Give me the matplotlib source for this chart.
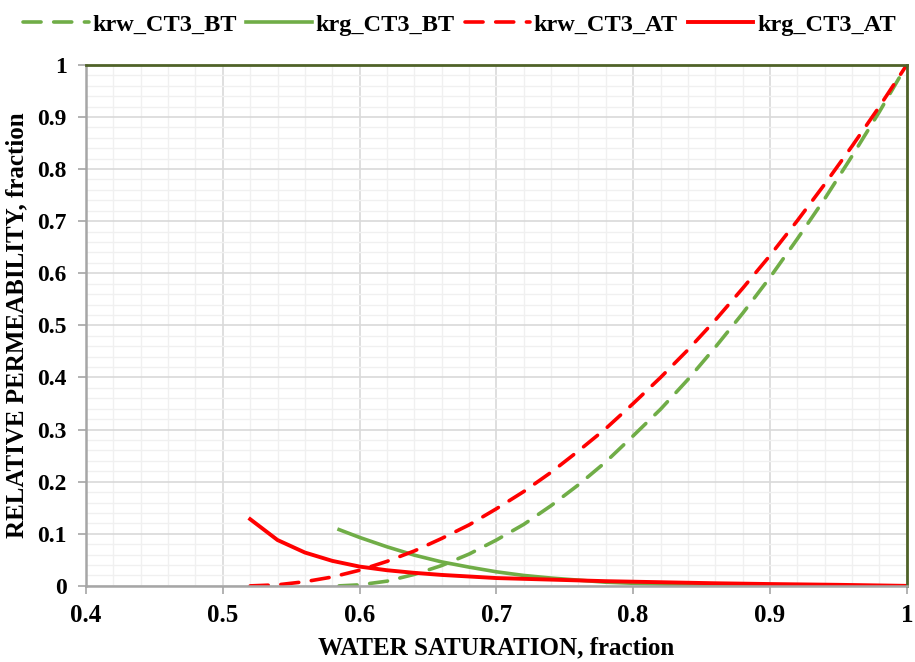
import numpy as np
import matplotlib
matplotlib.use("Agg")
import matplotlib.pyplot as plt
from matplotlib.ticker import MultipleLocator

plt.rcParams['font.family'] = ['Liberation Serif', 'DejaVu Serif']
plt.rcParams['font.weight'] = 'bold'

# water saturation / relative permeability readings
sw_krw_bt = [0.585, 0.60, 0.62, 0.64, 0.66, 0.68, 0.70, 0.72, 0.74, 0.76, 0.78, 0.80,
             0.82, 0.84, 0.86, 0.88, 0.90, 0.92, 0.94, 0.96, 0.98, 1.00]
krw_bt = [0.0, 0.002, 0.009, 0.022, 0.039, 0.061, 0.088, 0.118, 0.154, 0.194, 0.238, 0.288,
          0.339, 0.396, 0.458, 0.523, 0.592, 0.666, 0.743, 0.825, 0.910, 1.0]

sw_krg_bt = [0.585, 0.60, 0.62, 0.64, 0.66, 0.68, 0.70, 0.72, 0.74, 0.76, 0.78, 0.80,
             0.84, 0.88, 0.92, 1.00]
krg_bt = [0.108, 0.093, 0.075, 0.059, 0.046, 0.036, 0.027, 0.020, 0.015, 0.011, 0.007, 0.005,
          0.002, 0.001, 0.0003, 0.0]

sw_krw_at = [0.52, 0.54, 0.56, 0.58, 0.60, 0.62, 0.64, 0.66, 0.68, 0.70, 0.72, 0.74, 0.76,
             0.78, 0.80, 0.82, 0.84, 0.86, 0.88, 0.90, 0.92, 0.94, 0.96, 0.98, 1.00]
krw_at = [0.0, 0.002, 0.008, 0.017, 0.030, 0.047, 0.067, 0.091, 0.117, 0.148, 0.181, 0.218,
          0.259, 0.302, 0.350, 0.400, 0.453, 0.510, 0.571, 0.634, 0.701, 0.771, 0.844, 0.920, 1.0]

sw_krg_at = [0.52, 0.54, 0.56, 0.58, 0.60, 0.62, 0.64, 0.66, 0.68, 0.70, 0.74, 0.78, 0.82,
             0.86, 0.90, 0.95, 1.00]
krg_at = [0.128, 0.088, 0.064, 0.048, 0.037, 0.030, 0.025, 0.021, 0.018, 0.015, 0.012, 0.009,
          0.007, 0.005, 0.0035, 0.002, 0.0]

GREEN = '#70AD47'
RED = '#FF0000'

fig = plt.figure(figsize=(9.15, 6.62), dpi=100)
ax = fig.add_axes([0.094, 0.115, 0.897, 0.787])

dash = dict(linestyle=(0, (5, 3.5)), dash_capstyle='round')
ax.plot(sw_krw_bt, krw_bt, color=GREEN, lw=2.6, label='krw_CT3_BT', **dash)
ax.plot(sw_krg_bt, krg_bt, color=GREEN, lw=2.6, label='krg_CT3_BT')
ax.plot(sw_krw_at, krw_at, color=RED, lw=2.6, label='krw_CT3_AT', **dash)
ax.plot(sw_krg_at, krg_at, color=RED, lw=2.8, label='krg_CT3_AT')

ax.set_xlim(0.4, 1.0)
ax.set_ylim(0, 1.0)
ax.xaxis.set_major_locator(MultipleLocator(0.1))
ax.yaxis.set_major_locator(MultipleLocator(0.1))
ax.xaxis.set_minor_locator(MultipleLocator(0.02))
ax.yaxis.set_minor_locator(MultipleLocator(0.02))
ax.xaxis.set_major_formatter(plt.FuncFormatter(lambda v, p: f'{v:g}'))
ax.yaxis.set_major_formatter(plt.FuncFormatter(lambda v, p: f'{v:g}'))

ax.grid(which='major', color='#d9d9d9', lw=1.2)
ax.grid(which='minor', color='#f0f0f0', lw=1.0)
ax.set_axisbelow(True)

for s in ['top', 'right']:
    ax.spines[s].set_color('#4F6228')
    ax.spines[s].set_linewidth(2)
for s in ['left', 'bottom']:
    ax.spines[s].set_color('#a6a6a6')
    ax.spines[s].set_linewidth(1.8)

ax.tick_params(which='minor', length=0)
ax.tick_params(which='major', direction='out', length=6, color='#a6a6a6', width=1.2)
ax.tick_params(axis='x', pad=7, labelsize=18)
ax.tick_params(axis='y', pad=8, labelsize=17)

ax.set_xlabel('WATER SATURATION, fraction', fontsize=18, fontweight='bold', labelpad=7)
ax.set_ylabel('RELATIVE PERMEABILITY, fraction', fontsize=18, fontweight='bold', labelpad=6)

fig.legend(loc='upper center', bbox_to_anchor=(0.502, 1.012), ncol=4, frameon=False,
           fontsize=17.5, handlelength=2.7, handletextpad=0.15, columnspacing=0.4)

fig.savefig('out.png', dpi=100)
